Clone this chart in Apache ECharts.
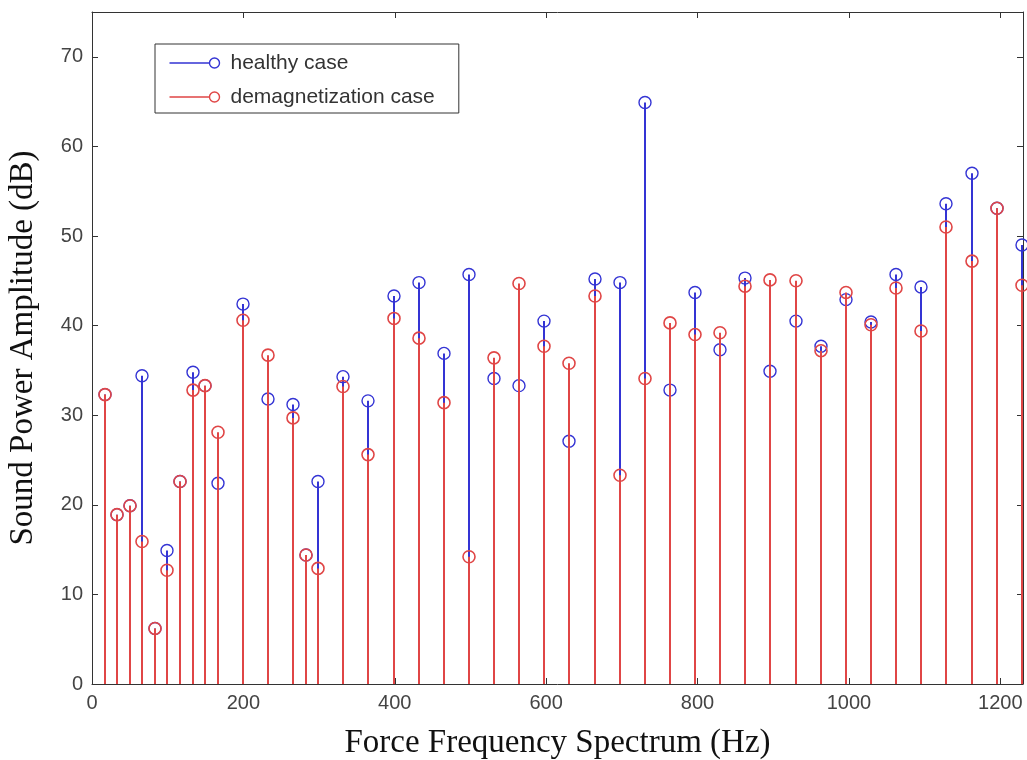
<!DOCTYPE html>
<html>
<head>
<meta charset="utf-8">
<script src="https://cdn.jsdelivr.net/npm/echarts@6/dist/echarts.min.js"></script>
<style>
html,body{margin:0;padding:0;background:#fff;}
#chart{width:1027px;height:760px;}
</style>
</head>
<body>
<div id="chart"></div>
<script>
// Frequencies (Hz) of the stems
const freqs = [16.6, 33.2, 49.8, 66.4, 83.0, 99.6, 116.2, 132.8, 149.4, 166.0,
  199.2, 232.4, 265.6, 282.2, 298.8, 332.0, 365.2, 398.4, 431.6, 464.8,
  498.0, 531.2, 564.4, 597.6, 630.8, 664.0, 697.2, 730.4, 763.6, 796.8,
  830.0, 863.2, 896.4, 929.6, 962.8, 996.0, 1029.2, 1062.4, 1095.6, 1128.8,
  1162.0, 1195.2, 1228.4];
// Sound power amplitude (dB)
const healthy = [32.3, 18.9, 19.9, 34.4, 6.2, 14.9, 22.6, 34.8, 33.3, 22.4,
  42.4, 31.8, 31.2, 14.4, 22.6, 34.3, 31.6, 43.3, 44.8, 36.9,
  45.7, 34.1, 33.3, 40.5, 27.1, 45.2, 44.8, 64.9, 32.8, 43.7,
  37.3, 45.3, 34.9, 40.5, 37.7, 42.9, 40.4, 45.7, 44.3, 53.6,
  57.0, 53.1, 49.0];
const demag = [32.3, 18.9, 19.9, 15.9, 6.2, 12.7, 22.6, 32.8, 33.3, 28.1,
  40.6, 36.7, 29.7, 14.4, 12.9, 33.2, 25.6, 40.8, 38.6, 31.4,
  14.2, 36.4, 44.7, 37.7, 35.8, 43.3, 23.3, 34.1, 40.3, 39.0,
  39.2, 44.4, 45.1, 45.0, 37.2, 43.7, 40.1, 44.2, 39.4, 51.0,
  47.2, 53.1, 44.5];
const seriesNames = ['healthy case', 'demagnetization case'];
const xTicks = [0, 200, 400, 600, 800, 1000, 1200];
const yTicks = [0, 10, 20, 30, 40, 50, 60, 70];

const BLUE = '#3434d4';
const RED = '#e04646';

function stemRenderer(color, lw) {
  return function (params, api) {
    const x = api.value(0), y = api.value(1);
    const p0 = api.coord([x, 0]);
    const p1 = api.coord([x, y]);
    const px = Math.round(p0[0]);
    return {
      type: 'group',
      children: [
        { type: 'line', shape: { x1: px, y1: p0[1], x2: px, y2: p1[1] },
          style: { stroke: color, lineWidth: 2 } },
        { type: 'circle', shape: { cx: px, cy: p1[1], r: 6 },
          style: { fill: 'none', stroke: color, lineWidth: lw } }
      ]
    };
  };
}

const legendIcon = 'path://M0 6 L40 6 M50 6 A5 5 0 1 1 40 6 A5 5 0 1 1 50 6';

const chart = echarts.init(document.getElementById('chart'), null, { renderer: 'canvas' });
const axisLineStyle = { color: '#333', width: 1 };
const tickFont = { fontFamily: 'Liberation Sans, Arial, sans-serif', fontSize: 20, color: '#444' };

chart.setOption({
  animation: false,
  backgroundColor: '#fff',
  grid: { left: 92, right: 4, top: 12, bottom: 76, containLabel: false, outerBoundsMode: 'none' },
  legend: {
    orient: 'vertical',
    left: 155, top: 44,
    padding: [8, 24, 5, 12],
    itemGap: 12,
    itemWidth: 50, itemHeight: 10,
    borderColor: '#333', borderWidth: 1,
    backgroundColor: '#fff',
    textStyle: { fontFamily: 'Liberation Sans, Arial, sans-serif', fontSize: 21, color: '#333', lineHeight: 22, padding: [0, 0, 0, 6] },
    data: [
      { name: seriesNames[0], icon: legendIcon, itemStyle: { color: 'none', borderColor: BLUE, borderWidth: 1.4 } },
      { name: seriesNames[1], icon: legendIcon, itemStyle: { color: 'none', borderColor: RED, borderWidth: 1.4 } }
    ]
  },
  xAxis: [
    {
      type: 'value', min: 0, max: 1230, interval: 200, position: 'bottom',
      name: 'Force Frequency Spectrum (Hz)', nameLocation: 'middle', nameGap: 43,
      nameTextStyle: { fontFamily: 'Liberation Serif, Times New Roman, serif', fontSize: 33, color: '#111' },
      axisLine: { show: true, onZero: false, lineStyle: axisLineStyle },
      axisTick: { show: true, inside: true, length: 6, lineStyle: axisLineStyle },
      axisLabel: Object.assign({ margin: 9, showMaxLabel: false,
        formatter: v => (xTicks.indexOf(v) >= 0 ? String(v) : '') }, tickFont),
      splitLine: { show: false }
    },
    {
      type: 'value', min: 0, max: 1230, interval: 200, position: 'top',
      axisLine: { show: true, onZero: false, lineStyle: axisLineStyle },
      axisTick: { show: true, inside: true, length: 6, lineStyle: axisLineStyle },
      axisLabel: { show: false }, splitLine: { show: false }
    }
  ],
  yAxis: [
    {
      type: 'value', min: 0, max: 75, interval: 10, position: 'left',
      name: 'Sound Power Amplitude (dB)', nameLocation: 'middle', nameGap: 52, nameRotate: 90,
      nameTextStyle: { fontFamily: 'Liberation Serif, Times New Roman, serif', fontSize: 33, color: '#111' },
      axisLine: { show: true, onZero: false, lineStyle: axisLineStyle },
      axisTick: { show: true, inside: true, length: 6, lineStyle: axisLineStyle },
      axisLabel: Object.assign({ margin: 9, showMaxLabel: false,
        formatter: v => (yTicks.indexOf(v) >= 0 ? String(v) : '') }, tickFont),
      splitLine: { show: false }
    },
    {
      type: 'value', min: 0, max: 75, interval: 10, position: 'right',
      axisLine: { show: true, onZero: false, lineStyle: axisLineStyle },
      axisTick: { show: true, inside: true, length: 6, lineStyle: axisLineStyle },
      axisLabel: { show: false }, splitLine: { show: false }
    }
  ],
  series: [
    {
      name: seriesNames[0], type: 'custom', xAxisIndex: 0, yAxisIndex: 0,
      itemStyle: { color: BLUE },
      renderItem: stemRenderer(BLUE, 1.4),
      encode: { x: 0, y: 1 },
      data: freqs.map((f, i) => [f, healthy[i]]),
      z: 2
    },
    {
      name: seriesNames[1], type: 'custom', xAxisIndex: 0, yAxisIndex: 0,
      itemStyle: { color: RED },
      renderItem: stemRenderer(RED, 1.6),
      encode: { x: 0, y: 1 },
      data: freqs.map((f, i) => [f, demag[i]]),
      z: 3
    }
  ]
});
</script>
</body>
</html>
